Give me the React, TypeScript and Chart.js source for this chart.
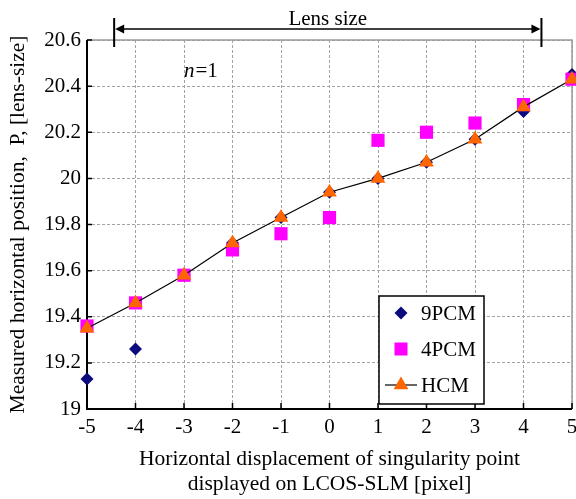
import React, { useEffect, useRef } from "react";
import { Chart, registerables } from "chart.js";

Chart.register(...registerables);

// Horizontal displacement of the singularity point [pixel]
const displacement = [-5, -4, -3, -2, -1, 0, 1, 2, 3, 4, 5];

// Measured horizontal position P [lens-size] for each centroid method
const pcm9 = [19.13, 19.26, 19.58, 19.72, 19.83, 19.94, 20.0, 20.07, 20.17, 20.29, 20.45];
const pcm4 = [19.36, 19.46, 19.58, 19.69, 19.76, 19.83, 20.165, 20.2, 20.24, 20.32, 20.43];
const hcm = [19.35, 19.46, 19.58, 19.72, 19.83, 19.94, 20.0, 20.07, 20.17, 20.31, 20.43];

const seriesNames = ["9PCM", "4PCM", "HCM"];

// Axis ranges
const xRange = [-5, 5];
const yRange = [19, 20.6];
const yStep = 0.2;

// Extent of the lens, in pixel units of the x axis
const lensSpan = [-4.44, 4.37];
const lensLabel = "Lens size";

const xTitle = ["Horizontal displacement of singularity point", "displayed on LCOS-SLM [pixel]"];
const yTitle = "Measured horizontal position,  P, [lens-size]";

const SERIF = "'Liberation Serif', 'Times New Roman', serif";
const NAVY = "#0b0b7d";
const MAGENTA = "#ff00ff";
const ORANGE = "#ff6600";
const GRID = "#a3a3a3";
const TEXT_SIZE = 21;
const TITLE_SIZE = 21.5;

const toPoints = (ys: number[]) => displacement.map((x, i) => ({ x, y: ys[i] }));

const decorPlugin = {
  id: "decor",
  beforeDatasetsDraw(chart: any) {
    const { ctx, chartArea: a, scales } = chart;
    const xs = scales.x;
    const ys = scales.y;
    ctx.save();
    // light frame on the top and right edges
    ctx.strokeStyle = "#9a9a9a";
    ctx.lineWidth = 1.5;
    ctx.beginPath();
    ctx.moveTo(a.left, a.top);
    ctx.lineTo(a.right, a.top);
    ctx.lineTo(a.right, a.bottom);
    ctx.stroke();
    // black axes
    ctx.strokeStyle = "#000";
    ctx.lineWidth = 2;
    ctx.beginPath();
    ctx.moveTo(a.left, a.top);
    ctx.lineTo(a.left, a.bottom);
    ctx.lineTo(a.right, a.bottom);
    ctx.stroke();
    // inward tick marks
    ctx.lineWidth = 1.5;
    ctx.beginPath();
    ys.ticks.forEach((t: any) => {
      const py = ys.getPixelForValue(t.value);
      ctx.moveTo(a.left, py);
      ctx.lineTo(a.left + 5, py);
    });
    xs.ticks.forEach((t: any) => {
      const px = xs.getPixelForValue(t.value);
      ctx.moveTo(px, a.bottom);
      ctx.lineTo(px, a.bottom - 6);
    });
    ctx.stroke();
    ctx.restore();
  },
  afterDraw(chart: any) {
    const { ctx, chartArea: a, scales } = chart;
    const xs = scales.x;
    const ys = scales.y;
    ctx.save();

    // lens size dimension arrow
    const lx = xs.getPixelForValue(lensSpan[0]);
    const rx = xs.getPixelForValue(lensSpan[1]);
    const ay = a.top - 11;
    ctx.strokeStyle = "#000";
    ctx.fillStyle = "#000";
    ctx.lineWidth = 2;
    ctx.beginPath();
    ctx.moveTo(lx, a.top - 22);
    ctx.lineTo(lx, a.top + 7);
    ctx.moveTo(rx, a.top - 22);
    ctx.lineTo(rx, a.top + 7);
    ctx.stroke();
    ctx.lineWidth = 1.5;
    ctx.beginPath();
    ctx.moveTo(lx + 6, ay);
    ctx.lineTo(rx - 6, ay);
    ctx.stroke();
    ctx.beginPath();
    ctx.moveTo(lx + 1, ay);
    ctx.lineTo(lx + 10, ay - 4.5);
    ctx.lineTo(lx + 10, ay + 4.5);
    ctx.closePath();
    ctx.moveTo(rx - 1, ay);
    ctx.lineTo(rx - 10, ay - 4.5);
    ctx.lineTo(rx - 10, ay + 4.5);
    ctx.closePath();
    ctx.fill();
    ctx.font = `${TEXT_SIZE}px ${SERIF}`;
    ctx.textAlign = "center";
    ctx.textBaseline = "alphabetic";
    ctx.fillText(lensLabel, (lx + rx) / 2, a.top - 15);

    // n=1 annotation
    const nx = xs.getPixelForValue(-3);
    const ny = ys.getPixelForValue(20.44);
    ctx.textAlign = "left";
    ctx.font = `italic ${TEXT_SIZE}px ${SERIF}`;
    ctx.fillText("n", nx, ny);
    const nw = ctx.measureText("n").width;
    ctx.font = `${TEXT_SIZE}px ${SERIF}`;
    ctx.fillText("=1", nx + nw + 1, ny);

    // legend box
    const bw = 105;
    const bh = 108;
    const bx = xs.getPixelForValue(1) + 1;
    const by = a.bottom - 5 - bh;
    ctx.fillStyle = "#fff";
    ctx.fillRect(bx, by, bw, bh);
    ctx.strokeStyle = "#000";
    ctx.lineWidth = 1.5;
    ctx.strokeRect(bx, by, bw, bh);

    const mx = bx + 22;
    const tx = bx + 42;
    const rows = [by + 17, by + 53, by + 89];
    ctx.font = `${TEXT_SIZE}px ${SERIF}`;
    ctx.textBaseline = "middle";
    ctx.textAlign = "left";

    // diamond
    ctx.fillStyle = NAVY;
    ctx.beginPath();
    ctx.moveTo(mx, rows[0] - 6.5);
    ctx.lineTo(mx + 6.5, rows[0]);
    ctx.lineTo(mx, rows[0] + 6.5);
    ctx.lineTo(mx - 6.5, rows[0]);
    ctx.closePath();
    ctx.fill();
    // square
    ctx.fillStyle = MAGENTA;
    ctx.fillRect(mx - 6.5, rows[1] - 6.5, 13, 13);
    // line with triangle
    ctx.strokeStyle = "#000";
    ctx.lineWidth = 1.2;
    ctx.beginPath();
    ctx.moveTo(mx - 16, rows[2]);
    ctx.lineTo(mx + 16, rows[2]);
    ctx.stroke();
    ctx.fillStyle = ORANGE;
    ctx.beginPath();
    ctx.moveTo(mx, rows[2] - 8.5);
    ctx.lineTo(mx + 7.4, rows[2] + 4.25);
    ctx.lineTo(mx - 7.4, rows[2] + 4.25);
    ctx.closePath();
    ctx.fill();

    ctx.fillStyle = "#000";
    seriesNames.forEach((name, i) => ctx.fillText(name, tx, rows[i] + 1));

    ctx.restore();
  },
};

export default function App() {
  const canvasRef = useRef<HTMLCanvasElement | null>(null);

  useEffect(() => {
    if (!canvasRef.current) return;
    const chart = new Chart(canvasRef.current, {
      type: "line",
      data: {
        datasets: [
          {
            label: seriesNames[2],
            data: toPoints(hcm),
            showLine: true,
            borderColor: "#000",
            borderWidth: 1.2,
            pointStyle: "triangle",
            pointRadius: 8.5,
            pointBackgroundColor: ORANGE,
            pointBorderColor: ORANGE,
            pointBorderWidth: 0,
            order: 0,
          },
          {
            label: seriesNames[1],
            data: toPoints(pcm4),
            showLine: false,
            pointStyle: "rect",
            pointRadius: 9.3,
            pointBackgroundColor: MAGENTA,
            pointBorderColor: MAGENTA,
            pointBorderWidth: 0,
            order: 1,
          },
          {
            label: seriesNames[0],
            data: toPoints(pcm9),
            showLine: false,
            pointStyle: "rectRot",
            pointRadius: 6.5,
            pointBackgroundColor: NAVY,
            pointBorderColor: NAVY,
            pointBorderWidth: 0,
            order: 2,
          },
        ],
      },
      options: {
        animation: false,
        responsive: true,
        maintainAspectRatio: false,
        clip: false as any,
        layout: { autoPadding: false, padding: { top: 40, right: 4, left: 0, bottom: 0 } },
        plugins: {
          legend: { display: false },
          tooltip: { enabled: false },
        },
        scales: {
          x: {
            type: "linear",
            min: xRange[0],
            max: xRange[1],
            offset: false,
            ticks: {
              stepSize: 1,
              padding: 6,
              color: "#000",
              font: { family: SERIF, size: TEXT_SIZE },
              callback: (v: any) => String(v),
              maxRotation: 0,
            },
            grid: { color: GRID, lineWidth: 1, drawTicks: false },
            border: { display: false, dash: [3, 2] },
            title: {
              display: true,
              text: xTitle,
              color: "#000",
              font: { family: SERIF, size: TITLE_SIZE, lineHeight: 25 / TITLE_SIZE },
              padding: { top: 0, bottom: 2 },
            },
            afterFit: (s: any) => {
              s.height = 90;
              s.paddingLeft = 0;
              s.paddingRight = 0;
            },
          },
          y: {
            type: "linear",
            min: yRange[0],
            max: yRange[1],
            ticks: {
              stepSize: yStep,
              padding: 6,
              color: "#000",
              font: { family: SERIF, size: TEXT_SIZE },
              callback: (v: any) => String(Number(Number(v).toFixed(1))),
            },
            grid: { color: GRID, lineWidth: 1, drawTicks: false },
            border: { display: false, dash: [3, 2] },
            title: {
              display: true,
              text: yTitle,
              color: "#000",
              font: { family: SERIF, size: TITLE_SIZE, lineHeight: 25 / TITLE_SIZE },
              padding: { top: 6, bottom: 0 },
            },
            afterFit: (s: any) => {
              s.width = 87;
              s.paddingTop = 0;
              s.paddingBottom = 0;
            },
          },
        },
      },
      plugins: [decorPlugin],
    });
    return () => chart.destroy();
  }, []);

  return (
    <div style={{ position: "fixed", left: 0, top: 0, width: 576, height: 499, background: "#fff" }}>
      <canvas ref={canvasRef} />
    </div>
  );
}
